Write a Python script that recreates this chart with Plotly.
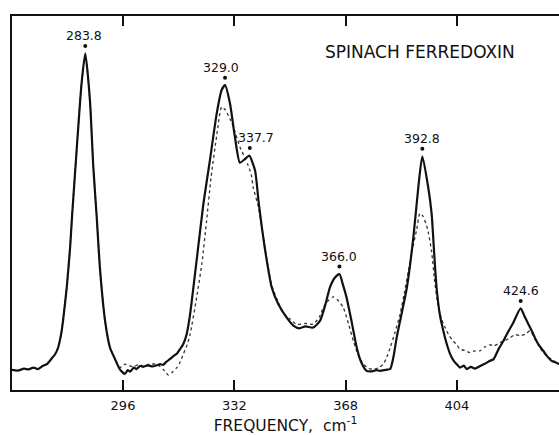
import plotly.graph_objects as go

# Frequency (cm^-1) and intensity (arbitrary units)
freq_solid = [260.1, 262.0, 264.0, 265.5, 267.0, 268.5, 270.0, 271.5, 273.0, 274.0,
              275.0, 276.0, 276.6, 277.8, 278.9, 279.5, 281.0, 282.6, 283.8, 285.3,
              286.4, 287.5, 288.6, 290.2, 291.8, 293.4, 295.0, 296.6, 297.5, 298.3,
              299.5, 300.4, 301.5, 302.6, 304.0, 305.5, 306.9, 308.0, 308.9, 310.0,
              311.2, 312.5, 313.4, 314.5, 315.5, 316.6, 317.7, 319.8, 322.0, 324.1,
              326.3, 327.9, 329.0, 330.6, 332.2, 333.8, 335.5, 336.8, 338.7, 339.8,
              340.9, 342.5, 344.1, 346.2, 348.9, 351.1, 353.0, 355.0, 357.5, 359.7,
              361.5, 362.9, 364.5, 366.0, 367.0, 368.3, 370.0, 371.6, 373.0, 374.8,
              376.5, 378.0, 379.1, 381.0, 382.4, 383.5, 384.5, 386.0, 387.8, 389.9,
              391.5, 392.8, 394.7, 395.8, 396.6, 397.4, 398.5, 399.6, 400.7, 401.8,
              402.8, 403.9, 405.0, 406.2, 407.2, 408.5, 409.8, 411.5, 413.0, 414.7,
              415.8, 417.5, 419.0, 420.5, 422.2, 424.6, 425.8, 427.1, 428.2, 429.2,
              430.5, 431.9, 433.2, 434.6, 435.8, 437.0]
int_solid = [5.4, 5.2, 5.7, 5.5, 6.0, 5.6, 6.4, 7.0, 8.5, 9.5,
             11.3, 15.0, 18.5, 27.4, 38.2, 46.2, 64.1, 82.0, 90.0, 77.5,
             59.6, 46.2, 31.9, 18.5, 11.3, 8.3, 5.5, 4.3, 5.3, 4.9,
             6.0, 5.6, 6.4, 6.2, 6.6, 6.3, 6.6, 6.9, 6.7, 7.5,
             8.3, 9.2, 9.7, 11.0, 12.3, 15.0, 20.3, 34.6, 49.8, 61.4,
             73.9, 80.2, 81.5, 76.6, 67.6, 60.8, 61.8, 62.7, 58.7, 50.7,
             43.5, 34.6, 27.4, 23.0, 19.4, 17.2, 16.5, 17.0, 16.7, 18.5,
             23.0, 27.4, 30.0, 31.0, 28.5, 24.7, 18.0, 11.3, 7.5, 5.1,
             5.0, 5.3, 5.1, 5.4, 5.6, 9.0, 14.0, 20.0, 27.4, 40.8,
             54.2, 62.5, 54.2, 47.2, 37.0, 27.4, 20.0, 15.8, 12.3, 9.6,
             8.0, 6.9, 6.0, 6.5, 5.6, 6.2, 5.7, 6.4, 7.0, 7.8,
             8.2, 11.0, 13.1, 15.5, 18.0, 21.8, 19.8, 17.6, 15.8, 14.0,
             12.0, 10.5, 9.0, 7.8, 7.4, 6.9]

freq_dotted = [260.1, 262.0, 264.0, 265.5, 267.0, 268.5, 270.0, 271.5, 273.0, 274.0,
               275.0, 276.0, 276.6, 277.8, 278.9, 279.5, 281.0, 282.6, 283.8, 285.3,
               286.4, 287.5, 288.6, 290.2, 291.8, 293.4, 295.0, 296.6, 298.0, 299.3,
               301.0, 302.6, 304.5, 306.9, 308.0, 309.0, 310.0, 310.7, 312.0, 313.4,
               314.5, 315.5, 316.7, 317.7, 319.8, 321.5, 323.0, 324.5, 326.3, 327.9,
               329.0, 330.6, 331.7, 333.8, 335.5, 336.5, 337.5, 338.1, 339.8, 341.0,
               342.5, 344.1, 346.2, 348.0, 350.0, 352.2, 355.0, 357.5, 359.5, 360.8,
               362.5, 364.0, 365.5, 367.2, 369.0, 370.5, 372.0, 373.7, 375.5, 377.0,
               378.5, 380.2, 381.3, 382.4, 384.0, 385.6, 387.0, 388.3, 389.7, 391.0,
               392.0, 393.0, 394.5, 395.8, 396.8, 397.8, 399.0, 400.0, 401.5, 402.8,
               404.0, 405.0, 406.5, 408.2, 409.5, 411.5, 413.0, 414.7, 416.0, 417.9,
               419.5, 421.2, 422.8, 424.4, 426.0, 427.6, 428.4, 429.2, 430.5, 431.9,
               433.2, 434.6, 435.8, 437.0]
int_dotted = [5.4, 5.2, 5.7, 5.5, 6.0, 5.6, 6.4, 7.0, 8.5, 9.5,
              11.3, 15.0, 18.5, 27.4, 38.2, 46.2, 64.1, 82.0, 89.5, 77.5,
              59.6, 46.2, 31.9, 18.5, 11.3, 8.3, 6.0, 6.9, 6.5, 6.2,
              6.8, 6.4, 6.9, 6.9, 6.3, 5.5, 4.5, 4.0, 4.8, 6.0,
              7.5, 9.6, 12.0, 14.9, 24.7, 33.8, 45.0, 57.0, 68.0, 75.7,
              75.0, 72.5, 70.3, 65.0, 62.0, 60.0, 57.5, 54.2, 48.9, 43.0,
              35.0, 28.0, 23.5, 20.5, 19.0, 17.5, 17.8, 17.6, 19.5, 22.1,
              24.0, 24.9, 24.0, 22.1, 17.5, 13.1, 9.5, 6.9, 5.8, 5.5,
              5.9, 6.9, 8.8, 11.3, 15.5, 20.3, 26.0, 31.9, 38.0, 43.0,
              47.2, 46.5, 43.0, 37.0, 29.0, 23.0, 19.0, 17.0, 14.5, 13.1,
              12.0, 10.9, 10.6, 10.0, 10.4, 10.5, 11.5, 12.1, 11.8, 12.7,
              13.2, 14.0, 14.8, 14.5, 14.9, 15.8, 15.0, 13.6, 11.8, 10.0,
              9.0, 8.2, 7.5, 6.9]

peak_pos = [283.8, 329.0, 337.0, 366.0, 392.8, 424.6]
peak_height = [90.0, 81.5, 62.7, 31.0, 62.5, 21.8]
peak_labels = ["283.8", "329.0", "337.7", "366.0", "392.8", "424.6"]
label_dx = [-1, -4, 6, 0, 0, 0]

tick_vals = [296, 332, 368, 404]
tick_text = ["296", "332", "368", "404"]

FONT = "DejaVu Sans"

fig = go.Figure()
fig.add_trace(go.Scatter(x=freq_dotted, y=int_dotted, mode="lines",
                         line=dict(color="#333333", width=1.3, dash="dot", shape="spline", smoothing=0.6),
                         hoverinfo="skip"))
fig.add_trace(go.Scatter(x=freq_solid, y=int_solid, mode="lines",
                         line=dict(color="#111111", width=2.2, shape="spline", smoothing=0.6),
                         hoverinfo="skip"))
fig.add_trace(go.Scatter(x=peak_pos, y=[h + 2.0 for h in peak_height], mode="markers",
                         marker=dict(color="#111111", size=4), hoverinfo="skip"))

for p, h, t, dx in zip(peak_pos, peak_height, peak_labels, label_dx):
    fig.add_annotation(x=p, y=h, text=t, showarrow=False, xanchor="center", yanchor="middle",
                       yshift=18, xshift=dx, font=dict(family=FONT, size=12.5, color="#111111"))

fig.add_annotation(x=0.745, y=90.4, xref="paper", yref="y", text="SPINACH FERREDOXIN",
                   showarrow=False, xanchor="center", yanchor="middle",
                   font=dict(family=FONT, size=17, color="#111111"))

fig.update_layout(
    width=559, height=435,
    margin=dict(l=12, r=0, t=16, b=45),
    paper_bgcolor="white", plot_bgcolor="white",
    showlegend=False,
    xaxis=dict(range=[260.1, 437.0], showline=True, linecolor="#111111", linewidth=1.5,
               mirror="ticks", ticks="inside", ticklen=10, tickwidth=1.5, tickcolor="#111111",
               tickvals=tick_vals, ticktext=tick_text, showgrid=False, zeroline=False,
               ticklabelstandoff=3,
               tickfont=dict(family=FONT, size=13, color="#111111"),
               title=dict(text="FREQUENCY,  cm<sup>-1</sup>", standoff=9,
                          font=dict(family=FONT, size=15.5, color="#111111"))),
    yaxis=dict(range=[0, 100], showline=True, linecolor="#111111", linewidth=1.5,
               mirror=False, ticks="", showticklabels=False, showgrid=False, zeroline=False),
)

fig.write_html("out.html")
